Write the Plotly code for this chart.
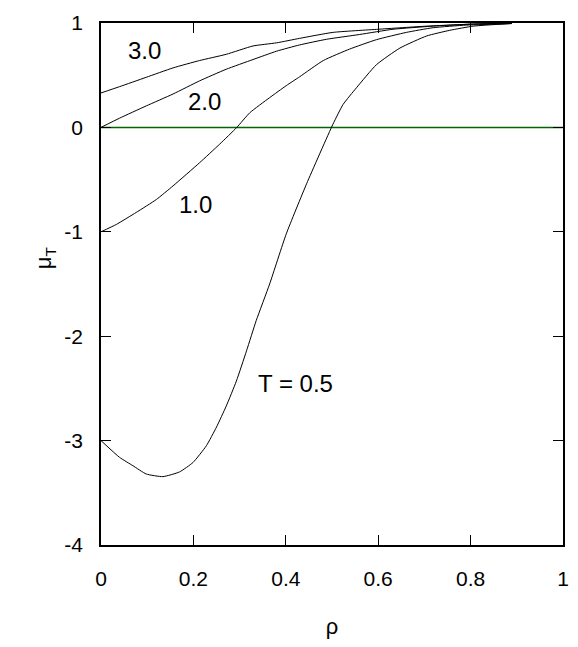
import plotly.graph_objects as go

# chemical potential vs density
rho_05 = [0.0, 0.040, 0.069, 0.098, 0.134, 0.170, 0.199, 0.228, 0.250, 0.271, 0.293,
          0.315, 0.336, 0.365, 0.401, 0.445, 0.502, 0.524, 0.553, 0.596, 0.647,
          0.705, 0.755, 0.806, 0.889]
mu_05 = [-3.0, -3.16, -3.24, -3.32, -3.345, -3.30, -3.21, -3.05, -2.87, -2.67, -2.43,
         -2.14, -1.85, -1.50, -1.02, -0.54, 0.03, 0.22, 0.38, 0.60, 0.76,
         0.876, 0.93, 0.97, 0.995]

rho_10 = [0.0, 0.033, 0.076, 0.120, 0.156, 0.213, 0.257, 0.294, 0.322, 0.365, 0.401,
          0.430, 0.481, 0.538, 0.596, 0.661, 0.719, 0.791, 0.864, 0.889]
mu_10 = [-1.0, -0.93, -0.815, -0.69, -0.56, -0.34, -0.16, 0.0, 0.14, 0.285, 0.40,
         0.485, 0.64, 0.75, 0.84, 0.91, 0.955, 0.98, 0.99, 0.995]

rho_20 = [0.0, 0.040, 0.098, 0.156, 0.213, 0.271, 0.329, 0.380, 0.430, 0.488,
          0.560, 0.632, 0.719, 0.806, 0.889]
mu_20 = [0.0, 0.088, 0.206, 0.32, 0.445, 0.557, 0.65, 0.73, 0.79, 0.844,
         0.89, 0.94, 0.97, 0.99, 1.0]

rho_30 = [0.0, 0.040, 0.098, 0.156, 0.213, 0.271, 0.329, 0.380, 0.430, 0.502,
          0.600, 0.705, 0.806, 0.889]
mu_30 = [0.33, 0.39, 0.48, 0.57, 0.64, 0.70, 0.78, 0.81, 0.853, 0.91,
         0.94, 0.97, 0.99, 1.0]

x_ticks = [0, 0.2, 0.4, 0.6, 0.8, 1]
x_ticktext = ["0", "0.2", "0.4", "0.6", "0.8", "1"]
y_ticks = [-4, -3, -2, -1, 0, 1]
y_ticktext = ["-4", "-3", "-2", "-1", "0", "1"]

labels = ["3.0", "2.0", "1.0", "T = 0.5"]
label_x = [0.094, 0.224, 0.205, 0.421]
label_y = [0.732, 0.244, -0.74, -2.455]

fig = go.Figure()

fig.add_trace(go.Scatter(x=[0, 1], y=[0, 0], mode="lines",
                         line=dict(color="#006400", width=1.5)))
for xs, ys in [(rho_30, mu_30), (rho_20, mu_20), (rho_10, mu_10), (rho_05, mu_05)]:
    fig.add_trace(go.Scatter(x=xs, y=ys, mode="lines",
                             line=dict(color="black", width=1,
                                       shape="spline", smoothing=0.5)))

for t, x, y in zip(labels, label_x, label_y):
    fig.add_annotation(x=x, y=y, text=t, showarrow=False,
                       font=dict(size=24, color="black"))

# y-axis title as annotation so it sits where the original has it
fig.add_annotation(xref="paper", yref="paper", x=-0.155, y=0.55,
                   text="μ<sub>T</sub>", textangle=-90, showarrow=False,
                   font=dict(size=22, color="black"))

axis_style = dict(showline=True, linecolor="black", linewidth=1.5, mirror="ticks",
                  ticks="inside", ticklen=10, tickcolor="black", tickwidth=1.2,
                  showgrid=False, zeroline=False, automargin=False,
                  tickfont=dict(size=21, color="black"))

fig.update_xaxes(range=[0, 1], tickvals=x_ticks, ticktext=x_ticktext,
                 ticklabelstandoff=14,
                 title=dict(text="ρ", font=dict(size=22, color="black"), standoff=30),
                 **axis_style)
fig.update_yaxes(range=[-4, 1], tickvals=y_ticks, ticktext=y_ticktext,
                 ticklabelstandoff=12, **axis_style)

# page body has an 8px margin, so the figure is a bit smaller than the window
fig.update_layout(width=570, height=639, showlegend=False,
                  margin=dict(l=93, r=15, t=15, b=102),
                  paper_bgcolor="white", plot_bgcolor="white",
                  font=dict(family="Liberation Sans, Arial, sans-serif", color="black"))

fig.write_html("out.html")
